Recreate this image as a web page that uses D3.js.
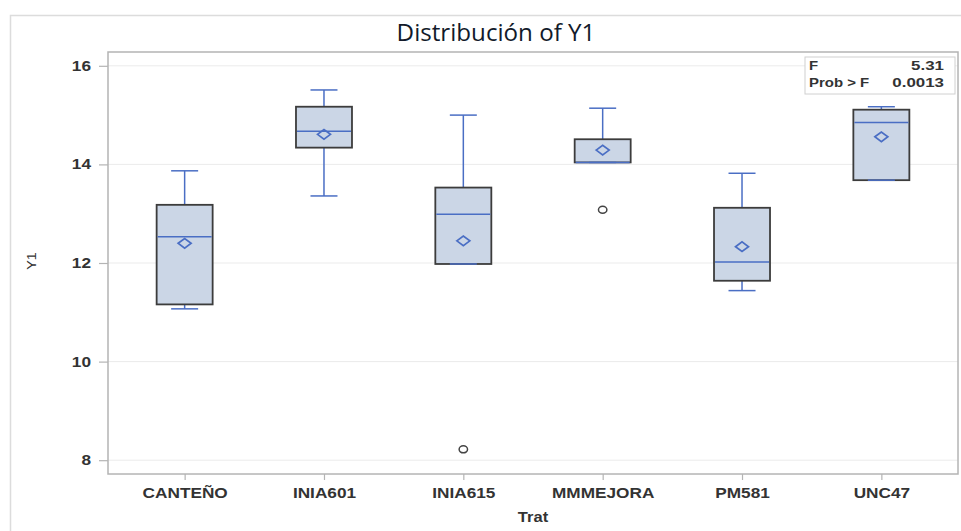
<!DOCTYPE html>
<html>
<head>
<meta charset="utf-8">
<script src="https://cdn.jsdelivr.net/npm/d3@7"></script>
<style>
  body { margin: 0; background: #fff; }
  svg { display: block; }
</style>
</head>
<body>
<svg id="chart" width="961" height="531"></svg>
<script>
// treatments and box statistics
var trats = ["CANTEÑO", "INIA601", "INIA615", "MMMEJORA", "PM581", "UNC47"];
var whiskerLow = [11.07, 13.36, 11.98, 14.04, 11.44, 13.68];
var q1 = [11.16, 14.34, 11.98, 14.04, 11.64, 13.68];
var median = [12.53, 14.67, 12.99, 14.04, 12.02, 14.85];
var q3 = [13.18, 15.17, 13.53, 14.51, 13.12, 15.11];
var whiskerHigh = [13.87, 15.51, 15.0, 15.14, 13.82, 15.17];
var means = [12.40, 14.61, 12.45, 14.29, 12.33, 14.56];
var outliers = [
  { trat: "INIA615", value: 8.22 },
  { trat: "MMMEJORA", value: 13.08 }
];
var yTicks = [8, 10, 12, 14, 16];
var statLabels = ["F", "Prob > F"];
var statValues = ["5.31", "0.0013"];

var svg = d3.select("#chart"),
	margin = { left: 108, right: 3, top: 52, bottom: 57 },
	width = +svg.attr("width"),
	height = +svg.attr("height");

var blue = "#4a6ec4",
	boxFill = "#cbd6e6",
	boxLine = "#3c3c3c",
	axisGrey = "#b4b4b4",
	sans = "'Liberation Sans', Arial, sans-serif",
	stretch = 1.23; // the picture's text is drawn a bit wide

var data = trats.map(function(t, i) {
	return { trat: t, lo: whiskerLow[i], q1: q1[i], med: median[i], q3: q3[i], hi: whiskerHigh[i], mean: means[i] };
});

// outer graph frame (cut off at right and bottom in the picture)
svg.append("rect")
	.attr("x", 10.5).attr("y", 15.5)
	.attr("width", width).attr("height", height)
	.attr("fill", "none").attr("stroke", "#dcdcdc").attr("stroke-width", 1.5);

var x = d3.scalePoint()
	.domain(trats)
	.range([margin.left, width - margin.right])
	.padding(0.55);

var y = d3.scaleLinear()
	.domain([7.72, 16.28])
	.range([height - margin.bottom, margin.top]);

// gridlines
svg.append("g")
	.selectAll("line")
	.data(yTicks)
	.enter().append("line")
	.attr("x1", margin.left).attr("x2", width - margin.right)
	.attr("y1", function(d) { return y(d); })
	.attr("y2", function(d) { return y(d); })
	.attr("stroke", "#ebebeb").attr("stroke-width", 1);

// plot frame
svg.append("rect")
	.attr("x", margin.left).attr("y", margin.top)
	.attr("width", width - margin.right - margin.left)
	.attr("height", height - margin.bottom - margin.top)
	.attr("fill", "none").attr("stroke", axisGrey).attr("stroke-width", 1.5);

// axes
var yAxis = svg.append("g")
	.attr("transform", "translate(" + margin.left + ",0)")
	.call(d3.axisLeft(y).tickValues(yTicks).tickSize(9).tickFormat(d3.format("d")));

var xAxis = svg.append("g")
	.attr("transform", "translate(0," + (height - margin.bottom) + ")")
	.call(d3.axisBottom(x).tickSize(6));

[yAxis, xAxis].forEach(function(a) {
	a.select(".domain").remove();
	a.selectAll(".tick line").attr("stroke", axisGrey).attr("stroke-width", 1.2);
	a.selectAll(".tick text")
		.attr("fill", "#333")
		.style("font-family", sans)
		.style("font-size", "14px")
		.style("font-weight", "bold");
});
yAxis.selectAll(".tick text")
	.attr("x", 0)
	.attr("transform", "translate(-17,0) scale(" + stretch + ",1)");
xAxis.selectAll(".tick text")
	.attr("y", 0).attr("dy", "0.35em")
	.attr("transform", "translate(0,19) scale(" + stretch + ",1)");

// axis titles
svg.append("text")
	.attr("transform", "translate(" + ((margin.left + width - margin.right) / 2) + ",522) scale(1.18,1)")
	.attr("text-anchor", "middle")
	.attr("fill", "#333")
	.style("font-family", sans)
	.style("font-size", "14px")
	.style("font-weight", "bold")
	.text("Trat");

svg.append("text")
	.attr("transform", "translate(36,261) rotate(-90) scale(1.1,1)")
	.attr("text-anchor", "middle")
	.attr("fill", "#333")
	.style("font-family", sans)
	.style("font-size", "13px")
	.text("Y1");

// chart title
svg.append("text")
	.attr("transform", "translate(496,41) scale(1.05,1)")
	.attr("text-anchor", "middle")
	.attr("fill", "#121a2a")
	.style("font-family", "'Open Sans', sans-serif")
	.style("font-size", "23px")
	.text("Distribución of Y1");

// boxes
var boxW = 56, capW = 27;
var box = svg.append("g").selectAll("g")
	.data(data)
	.enter().append("g");

box.append("line")
	.attr("x1", function(d) { return x(d.trat); })
	.attr("x2", function(d) { return x(d.trat); })
	.attr("y1", function(d) { return y(d.q3); })
	.attr("y2", function(d) { return y(d.hi); })
	.attr("stroke", blue).attr("stroke-width", 1.5);

box.append("line")
	.attr("x1", function(d) { return x(d.trat); })
	.attr("x2", function(d) { return x(d.trat); })
	.attr("y1", function(d) { return y(d.q1); })
	.attr("y2", function(d) { return y(d.lo); })
	.attr("stroke", blue).attr("stroke-width", 1.5);

box.append("rect")
	.attr("x", function(d) { return x(d.trat) - boxW / 2; })
	.attr("width", boxW)
	.attr("y", function(d) { return y(d.q3); })
	.attr("height", function(d) { return y(d.q1) - y(d.q3); })
	.attr("fill", boxFill)
	.attr("stroke", boxLine).attr("stroke-width", 1.8);

box.append("line")
	.attr("x1", function(d) { return x(d.trat) - boxW / 2 + 1; })
	.attr("x2", function(d) { return x(d.trat) + boxW / 2 - 1; })
	.attr("y1", function(d) { return y(d.med); })
	.attr("y2", function(d) { return y(d.med); })
	.attr("stroke", blue).attr("stroke-width", 1.5);

["hi", "lo"].forEach(function(k) {
	box.append("line")
		.attr("x1", function(d) { return x(d.trat) - capW / 2; })
		.attr("x2", function(d) { return x(d.trat) + capW / 2; })
		.attr("y1", function(d) { return y(d[k]); })
		.attr("y2", function(d) { return y(d[k]); })
		.attr("stroke", blue).attr("stroke-width", 1.5);
});

// mean diamonds
box.append("path")
	.attr("d", "M-6.5,0L0,-4.8L6.5,0L0,4.8Z")
	.attr("transform", function(d) { return "translate(" + x(d.trat) + "," + y(d.mean) + ")"; })
	.attr("fill", "none")
	.attr("stroke", blue).attr("stroke-width", 1.7);

// outliers
svg.append("g").selectAll("ellipse")
	.data(outliers)
	.enter().append("ellipse")
	.attr("cx", function(d) { return x(d.trat); })
	.attr("cy", function(d) { return y(d.value); })
	.attr("rx", 4.2).attr("ry", 3.5)
	.attr("fill", "none")
	.attr("stroke", "#444").attr("stroke-width", 1.5);

// F statistic inset
var inset = svg.append("g").attr("transform", "translate(805,57)");
inset.append("rect")
	.attr("width", 150).attr("height", 37)
	.attr("fill", "#fff")
	.attr("stroke", "#d0d0d0").attr("stroke-width", 1);

inset.selectAll("text.lab")
	.data(statLabels)
	.enter().append("text")
	.attr("class", "lab")
	.attr("transform", function(d, i) { return "translate(4," + (13 + i * 17) + ") scale(1.15,1)"; })
	.attr("fill", "#333")
	.style("font-family", sans)
	.style("font-size", "13px")
	.style("font-weight", "bold")
	.text(function(d) { return d; });

inset.selectAll("text.val")
	.data(statValues)
	.enter().append("text")
	.attr("class", "val")
	.attr("transform", function(d, i) { return "translate(139," + (13 + i * 17) + ") scale(1.3,1)"; })
	.attr("text-anchor", "end")
	.attr("fill", "#333")
	.style("font-family", sans)
	.style("font-size", "13px")
	.style("font-weight", "bold")
	.text(function(d) { return d; });
</script>
</body>
</html>
